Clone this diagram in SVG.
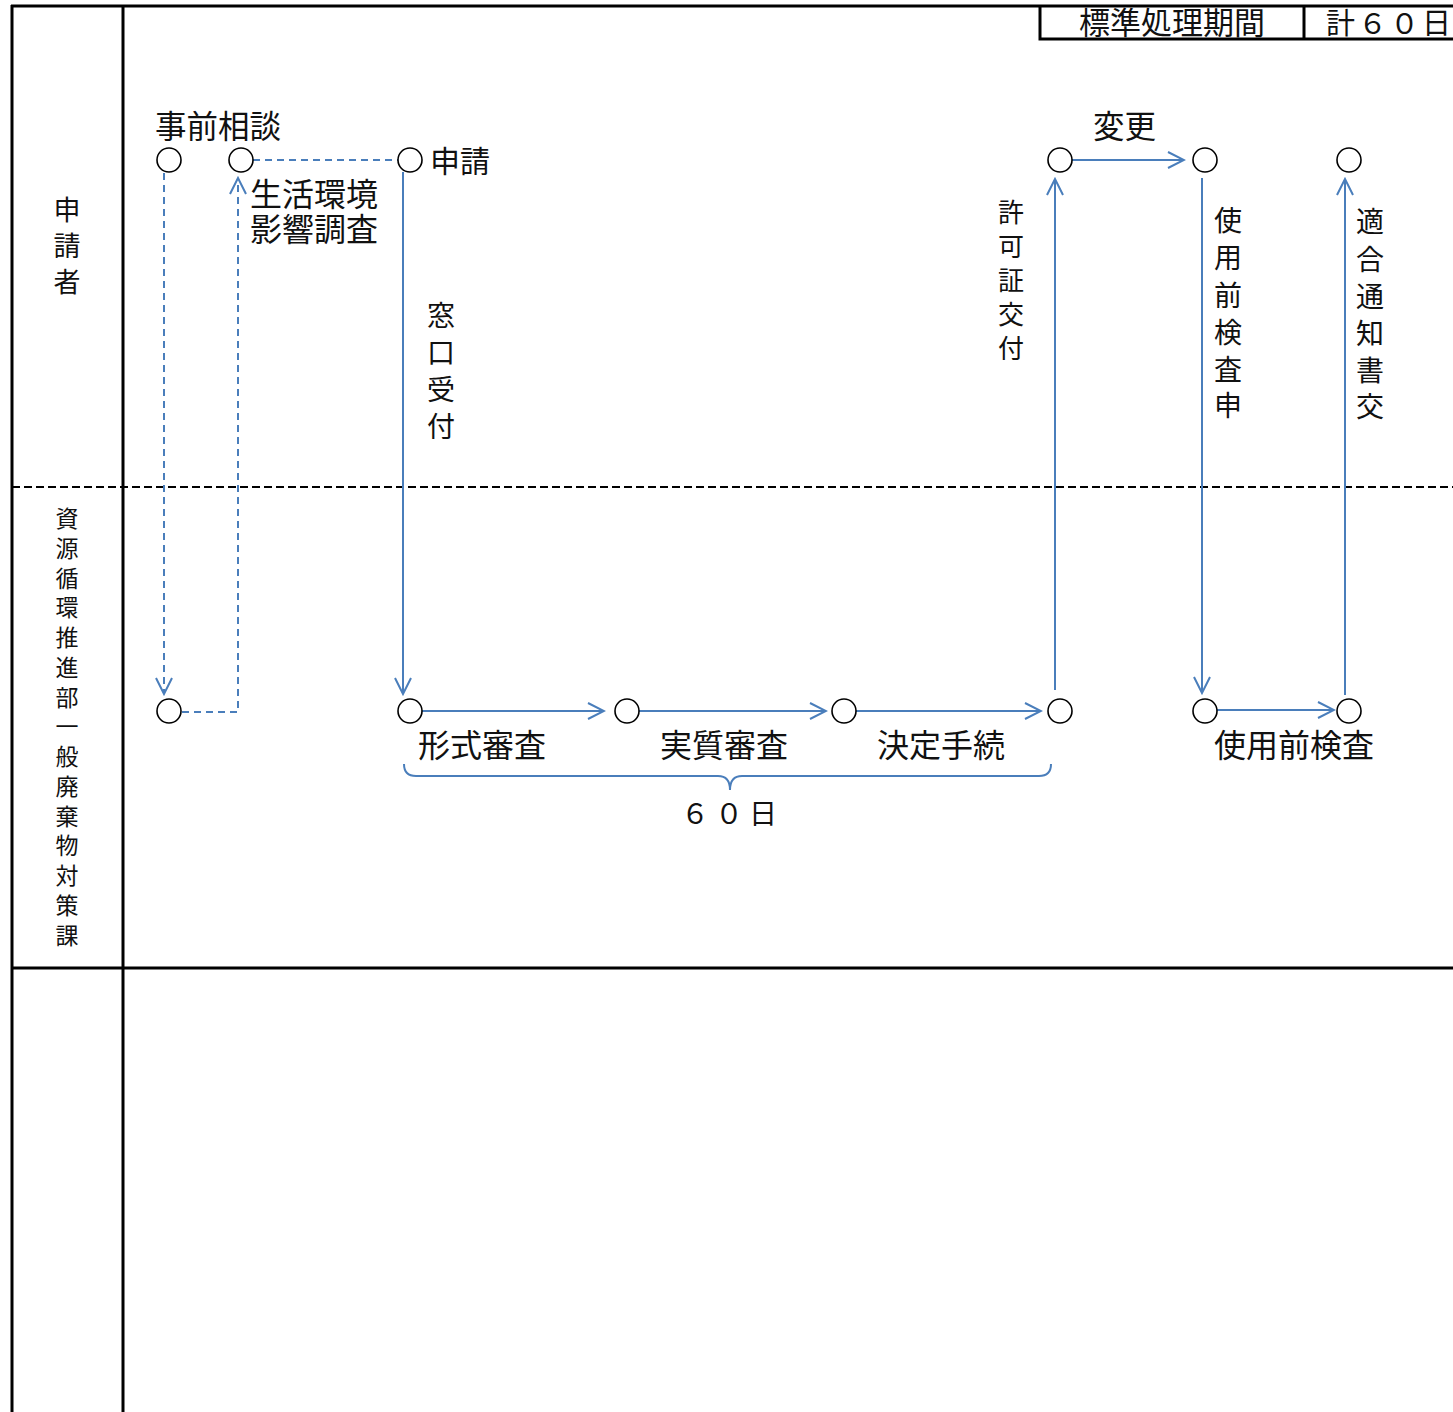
<svg xmlns="http://www.w3.org/2000/svg" width="1453" height="1412" viewBox="0 0 1453 1412">
<style>
.frame{stroke:#000;stroke-width:3;fill:none}
.node{fill:#fff;stroke:#000;stroke-width:1.6}
.c{stroke:#4a7ebb;stroke-width:2;fill:none}
.d{stroke-dasharray:7,5}
.t{font-family:"Noto Sans CJK JP","Noto Sans CJK SC",sans-serif;fill:#111}
</style>
<defs>
<marker id="ah" viewBox="0 0 20 20" refX="18" refY="10" markerWidth="20" markerHeight="20" markerUnits="userSpaceOnUse" orient="auto">
<path d="M2,2 L18,10 L2,18" fill="none" stroke="#4a7ebb" stroke-width="2"/>
</marker>
</defs>
<g id="frame">
<line class="frame" x1="12" y1="5" x2="12" y2="1412"/>
<line class="frame" x1="123" y1="5" x2="123" y2="1412"/>
<line class="frame" x1="11" y1="6" x2="1453" y2="6"/>
<line x1="12" y1="487" x2="1453" y2="487" stroke="#000" stroke-width="2" stroke-dasharray="8,4"/>
<line class="frame" x1="11" y1="968" x2="1453" y2="968"/>
<path class="frame" d="M1040,6 V39 H1453 M1304,6 V39"/>
<text class="t" x="1172" y="34" font-size="31" text-anchor="middle">標準処理期間</text>
<text class="t" x="1326" y="34" font-size="29" letter-spacing="3">計６０日</text>
</g>
<g id="lane-labels" class="t" text-anchor="middle">
<text font-size="27"><tspan x="67" y="220">申</tspan><tspan x="67" y="256">請</tspan><tspan x="67" y="292">者</tspan></text>
<text font-size="23"><tspan x="67" y="527">資</tspan><tspan x="67" y="557">源</tspan><tspan x="67" y="587">循</tspan><tspan x="67" y="616">環</tspan><tspan x="67" y="646">推</tspan><tspan x="67" y="676">進</tspan><tspan x="67" y="706">部</tspan><tspan x="67" y="735">一</tspan><tspan x="67" y="765">般</tspan><tspan x="67" y="795">廃</tspan><tspan x="67" y="825">棄</tspan><tspan x="67" y="854">物</tspan><tspan x="67" y="884">対</tspan><tspan x="67" y="914">策</tspan><tspan x="67" y="944">課</tspan></text>
</g>
<g id="connectors">
<line class="c d" x1="164" y1="173" x2="164" y2="694" marker-end="url(#ah)"/>
<polyline class="c d" points="182,712 238,712 238,178" marker-end="url(#ah)"/>
<line class="c d" x1="253" y1="160" x2="398" y2="160"/>
<line class="c" x1="403" y1="172" x2="403" y2="694" marker-end="url(#ah)"/>
<line class="c" x1="410" y1="711" x2="604" y2="711" marker-end="url(#ah)"/>
<line class="c" x1="627" y1="711" x2="826" y2="711" marker-end="url(#ah)"/>
<line class="c" x1="844" y1="711" x2="1041" y2="711" marker-end="url(#ah)"/>
<line class="c" x1="1055" y1="690" x2="1055" y2="179" marker-end="url(#ah)"/>
<line class="c" x1="1062" y1="160" x2="1184" y2="160" marker-end="url(#ah)"/>
<line class="c" x1="1202" y1="178" x2="1202" y2="693" marker-end="url(#ah)"/>
<line class="c" x1="1216" y1="710" x2="1334" y2="710" marker-end="url(#ah)"/>
<line class="c" x1="1345" y1="695" x2="1345" y2="179" marker-end="url(#ah)"/>
<path class="c" d="M404,764 q0,12 12,12 H718 q12,0 12,14 q0,-14 12,-14 H1039 q12,0 12,-12"/>
</g>
<g id="nodes">
<g id="n-consult1"><circle class="node" cx="169" cy="160" r="12"/></g>
<g id="n-consult2"><circle class="node" cx="241" cy="160" r="12"/></g>
<g id="n-apply"><circle class="node" cx="410" cy="160" r="12"/></g>
<g id="n-permit"><circle class="node" cx="1060" cy="160" r="12"/></g>
<g id="n-change"><circle class="node" cx="1205" cy="160" r="12"/></g>
<g id="n-notice"><circle class="node" cx="1349" cy="160" r="12"/></g>
<g id="n-b1"><circle class="node" cx="169" cy="711" r="12"/></g>
<g id="n-b2"><circle class="node" cx="410" cy="711" r="12"/></g>
<g id="n-b3"><circle class="node" cx="627" cy="711" r="12"/></g>
<g id="n-b4"><circle class="node" cx="844" cy="711" r="12"/></g>
<g id="n-b5"><circle class="node" cx="1060" cy="711" r="12"/></g>
<g id="n-b6"><circle class="node" cx="1205" cy="711" r="12"/></g>
<g id="n-b7"><circle class="node" cx="1349" cy="711" r="12"/></g>
</g>
<g id="labels" class="t">
<text x="155" y="138" font-size="31.5">事前相談</text>
<text x="430" y="172" font-size="30">申請</text>
<text x="250" y="206" font-size="32">生活環境</text>
<text x="250" y="241" font-size="32">影響調査</text>
<text x="1093" y="138" font-size="31.5">変更</text>
<text text-anchor="middle" font-size="28"><tspan x="441" y="326">窓</tspan><tspan x="441" y="363">口</tspan><tspan x="441" y="400">受</tspan><tspan x="441" y="437">付</tspan></text>
<text text-anchor="middle" font-size="26"><tspan x="1011" y="222">許</tspan><tspan x="1011" y="256">可</tspan><tspan x="1011" y="290">証</tspan><tspan x="1011" y="324">交</tspan><tspan x="1011" y="358">付</tspan></text>
<text text-anchor="middle" font-size="28"><tspan x="1228" y="231">使</tspan><tspan x="1228" y="268">用</tspan><tspan x="1228" y="306">前</tspan><tspan x="1228" y="343">検</tspan><tspan x="1228" y="380">査</tspan><tspan x="1228" y="416">申</tspan></text>
<text text-anchor="middle" font-size="28"><tspan x="1370" y="232">適</tspan><tspan x="1370" y="270">合</tspan><tspan x="1370" y="307">通</tspan><tspan x="1370" y="344">知</tspan><tspan x="1370" y="381">書</tspan><tspan x="1370" y="417">交</tspan></text>
<text x="418" y="757" font-size="32">形式審査</text>
<text x="660" y="757" font-size="32">実質審査</text>
<text x="877" y="757" font-size="32">決定手続</text>
<text x="1214" y="757" font-size="32">使用前検査</text>
<text x="732" y="824" font-size="28" text-anchor="middle" letter-spacing="6">６０日</text>
</g>
</svg>
